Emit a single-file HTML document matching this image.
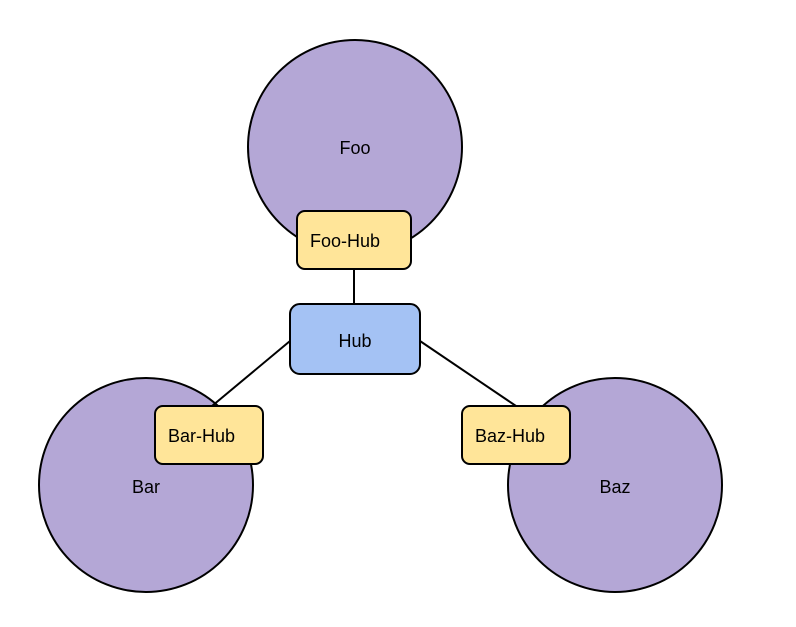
<!DOCTYPE html>
<html><head><style>
html,body{margin:0;padding:0;background:#fff;width:796px;height:627px;overflow:hidden}
</style></head><body>
<svg width="796" height="627" xmlns="http://www.w3.org/2000/svg" font-family="Liberation Sans, Arial, sans-serif" font-size="18">
<rect width="796" height="627" fill="#fff"/>
<circle cx="355" cy="147" r="107" fill="#b4a7d6" stroke="#000" stroke-width="2"/>
<circle cx="146" cy="485" r="107" fill="#b4a7d6" stroke="#000" stroke-width="2"/>
<circle cx="615" cy="485" r="107" fill="#b4a7d6" stroke="#000" stroke-width="2"/>
<line x1="354" y1="269" x2="354" y2="304" stroke="#000" stroke-width="2"/>
<line x1="290" y1="341" x2="212" y2="406" stroke="#000" stroke-width="2"/>
<line x1="420" y1="341" x2="516" y2="406" stroke="#000" stroke-width="2"/>
<rect x="297" y="211" width="114" height="58" rx="8" fill="#ffe599" stroke="#000" stroke-width="2"/>
<rect x="290" y="304" width="130" height="70" rx="10" fill="#a4c2f4" stroke="#000" stroke-width="2"/>
<rect x="155" y="406" width="108" height="58" rx="8" fill="#ffe599" stroke="#000" stroke-width="2"/>
<rect x="462" y="406" width="108" height="58" rx="8" fill="#ffe599" stroke="#000" stroke-width="2"/>
<text x="355" y="154" text-anchor="middle">Foo</text>
<text x="146" y="493" text-anchor="middle">Bar</text>
<text x="615" y="493" text-anchor="middle">Baz</text>
<text x="310" y="247">Foo-Hub</text>
<text x="355" y="347" text-anchor="middle">Hub</text>
<text x="168" y="442">Bar-Hub</text>
<text x="475" y="442">Baz-Hub</text>
</svg>
</body></html>
